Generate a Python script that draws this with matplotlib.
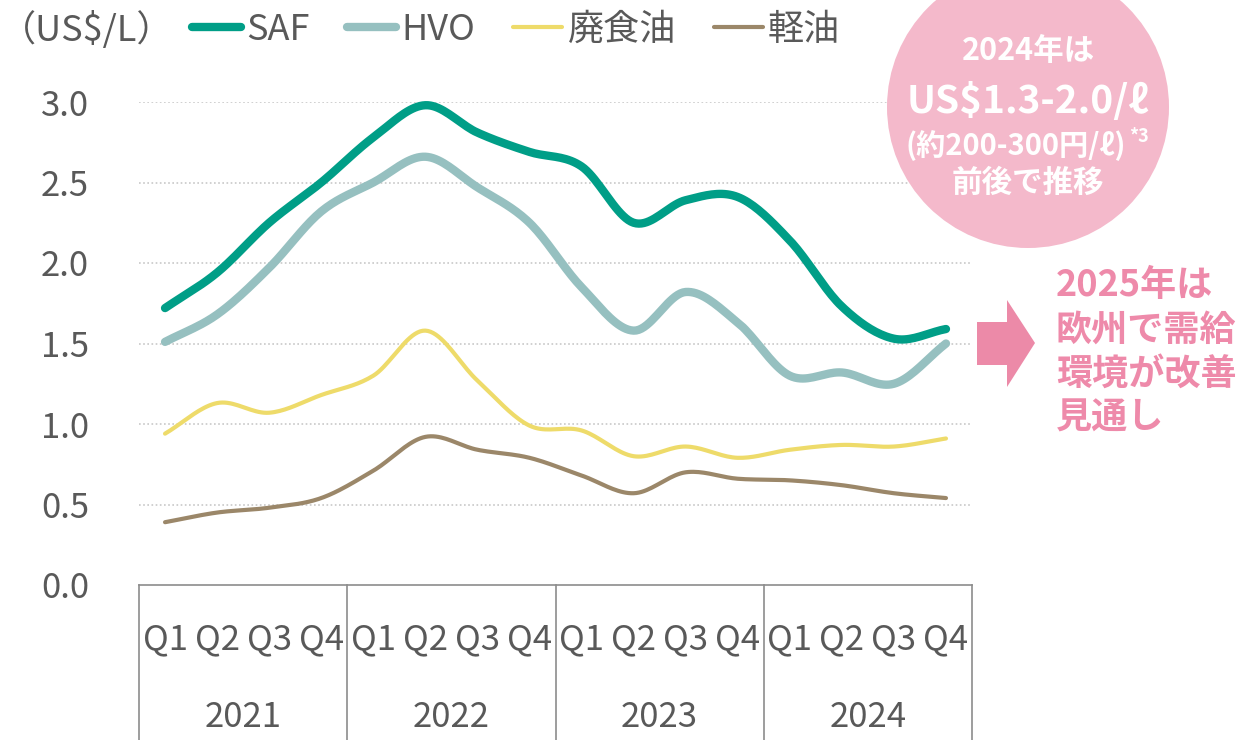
import matplotlib
matplotlib.use("Agg")
import matplotlib.pyplot as plt
import numpy as np
from matplotlib.patches import Circle, Polygon
from matplotlib.lines import Line2D
import matplotlib.transforms as mtransforms

plt.rcParams['font.family'] = ['Noto Sans CJK JP', 'DejaVu Sans']

quarters = ["Q1", "Q2", "Q3", "Q4"]
years = ["2021", "2022", "2023", "2024"]

saf = [1.72, 1.94, 2.25, 2.50, 2.78, 2.98, 2.81, 2.69,
       2.60, 2.25, 2.39, 2.41, 2.14, 1.73, 1.53, 1.59]
hvo = [1.51, 1.68, 1.97, 2.32, 2.50, 2.66, 2.47, 2.25,
       1.85, 1.58, 1.82, 1.63, 1.30, 1.32, 1.25, 1.50]
waste_oil = [0.94, 1.13, 1.07, 1.18, 1.30, 1.58, 1.27, 0.99,
             0.96, 0.80, 0.86, 0.79, 0.84, 0.87, 0.86, 0.91]
diesel = [0.39, 0.45, 0.48, 0.54, 0.71, 0.92, 0.84, 0.79,
          0.68, 0.57, 0.70, 0.66, 0.65, 0.62, 0.57, 0.54]

series = [
    ("SAF", saf, "#009E87", 6.0),
    ("HVO", hvo, "#96C0C0", 6.0),
    ("廃食油", waste_oil, "#EEDB6A", 3.0),
    ("軽油", diesel, "#9B8769", 3.0),
]

TEXT = "#595959"
FS = 25


def smooth(x, y, n=20):
    # Catmull-Rom curve through every point, like a spreadsheet "smoothed line"
    x = np.asarray(x, float)
    y = np.asarray(y, float)
    px = np.concatenate([[2 * x[0] - x[1]], x, [2 * x[-1] - x[-2]]])
    py = np.concatenate([[2 * y[0] - y[1]], y, [2 * y[-1] - y[-2]]])
    xs, ys = [], []
    t = np.linspace(0, 1, n, endpoint=False)
    for i in range(1, len(px) - 2):
        for p, out in ((px, xs), (py, ys)):
            p0, p1, p2, p3 = p[i - 1], p[i], p[i + 1], p[i + 2]
            c1 = p1 + (p2 - p0) / 6
            c2 = p2 - (p3 - p1) / 6
            out.extend((1 - t) ** 3 * p1 + 3 * (1 - t) ** 2 * t * c1
                       + 3 * (1 - t) * t ** 2 * c2 + t ** 3 * p2)
    xs.append(x[-1])
    ys.append(y[-1])
    return np.array(xs), np.array(ys)


W, H = 1258, 740
fig = plt.figure(figsize=(W / 100, H / 100), dpi=100)
ax = fig.add_axes([139 / W, (H - 585) / H, (972 - 139) / W, (585 - 102) / H])

x = np.arange(len(saf))
for name, vals, color, lw in series:
    sx, sy = smooth(x, vals)
    ax.plot(sx, sy, color=color, lw=lw, solid_capstyle="round", label=name, clip_on=False)

ax.set_xlim(-0.5, len(saf) - 0.5)
ax.set_ylim(0, 3.0)
ax.set_yticks(np.arange(0, 3.01, 0.5))
ax.set_yticklabels([f"{v:.1f}" for v in np.arange(0, 3.01, 0.5)])
ax.tick_params(axis="y", length=0, pad=36, labelsize=FS, labelcolor=TEXT)
ax.set_xticks([])
for v in np.arange(0.5, 3.01, 0.5):
    ax.axhline(v, color="#C8C8C8", lw=1.2, ls=(0, (1, 1.5)), zorder=0)
for s in ["top", "right", "left"]:
    ax.spines[s].set_visible(False)
ax.spines["bottom"].set_color("#8C8C8C")
ax.spines["bottom"].set_linewidth(1.2)

# two-level category axis: quarters then years, boxed by separators
trans = mtransforms.blended_transform_factory(ax.transData, ax.transAxes)
bottom_y = -155 / 483
for b in np.arange(-0.5, len(saf), 4):
    ax.add_line(Line2D([b, b], [0, bottom_y], transform=trans, color="#8C8C8C",
                       lw=1.2, clip_on=False))
for i in x:
    ax.text(i, -0.114, quarters[i % 4], transform=trans, ha="center", va="center",
            fontsize=FS, color=TEXT)
for j, yr in enumerate(years):
    ax.text(4 * j + 1.5, -0.275, yr, transform=trans, ha="center", va="center",
            fontsize=FS, color=TEXT)

# legend row
ax.legend(ncol=4, loc="center left", bbox_to_anchor=(192 / W, (H - 30) / H),
          bbox_transform=fig.transFigure, frameon=False, fontsize=FS + 1,
          handlelength=1.35, handletextpad=0.15, columnspacing=1.05,
          labelcolor=TEXT, borderaxespad=0, borderpad=0)

# overlay in pixel coordinates for the callouts
ov = fig.add_axes([0, 0, 1, 1])
ov.set_xlim(0, W)
ov.set_ylim(H, 0)
ov.axis("off")

ov.text(0, 30, "（US$/L）", ha="left", va="center", fontsize=FS + 1, color=TEXT)

ov.add_patch(Circle((1028, 107), 141, color="#F4B9CB", lw=0))
ov.text(1028, 51, "2024年は", ha="center", va="center", fontsize=22,
        fontweight="bold", color="white")
ov.text(1028, 101, "US$1.3-2.0/ℓ", ha="center", va="center", fontsize=28,
        fontweight="bold", color="white")
ov.text(1016, 146, "(約200-300円/ℓ)", ha="center", va="center", fontsize=21,
        fontweight="bold", color="white")
ov.text(1129, 137, "*3", ha="left", va="center", fontsize=13,
        fontweight="bold", color="white")
ov.text(1028, 183, "前後で推移", ha="center", va="center", fontsize=22,
        fontweight="bold", color="white")

ov.add_patch(Polygon([(977, 322), (1007, 322), (1007, 300), (1035, 343),
                      (1007, 387), (1007, 365), (977, 365)],
                     closed=True, color="#EC8AA8", lw=0))
ov.text(1056, 352, "2025年は\n欧州で需給\n環境が改善\n見通し", ha="left", va="center",
        fontsize=26, fontweight="bold", color="#EE8AAA", linespacing=1.25)

fig.savefig("out.png", dpi=100)
